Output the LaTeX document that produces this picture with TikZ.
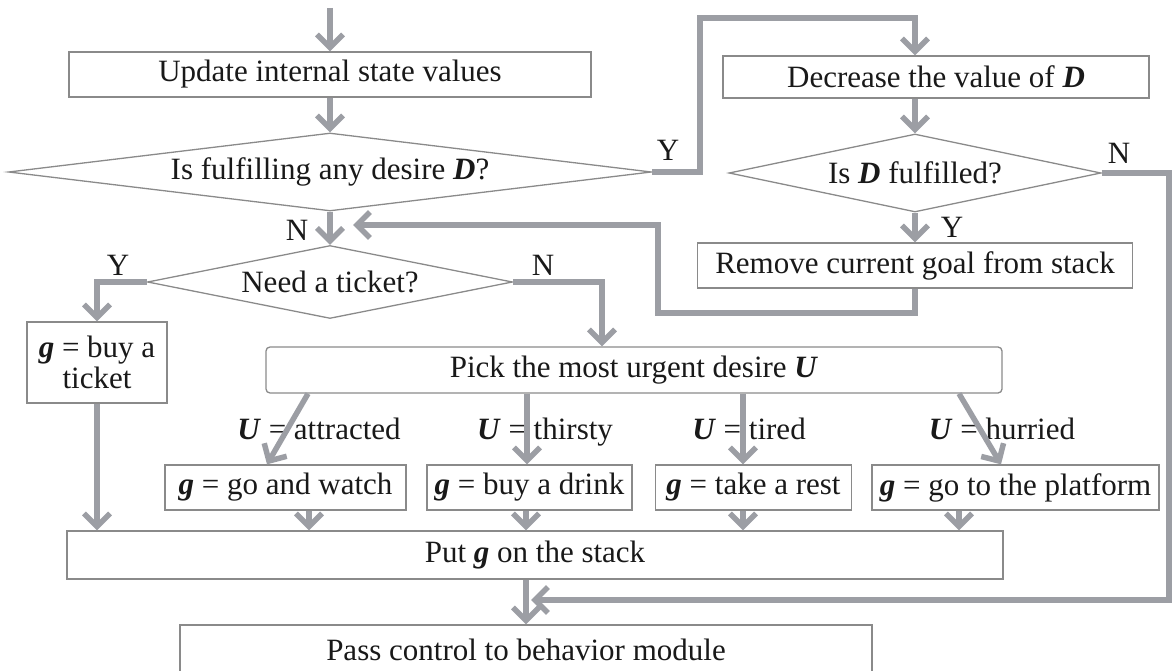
\documentclass[tikz,border=0pt]{standalone}
\usepackage{fontspec}
\setmainfont{Liberation Serif}
\usetikzlibrary{shapes.geometric,arrows.meta,calc}
\DeclareRobustCommand{\bv}[1]{\textbf{\textit{#1}}}
\newcommand{\vD}{\bv{D}}
\newcommand{\vg}{\bv{g}}
\newcommand{\vU}{\bv{U}}
\definecolor{arrowgray}{RGB}{156,158,164}
\definecolor{boxgray}{RGB}{138,138,138}
\definecolor{inkgray}{RGB}{25,25,25}
\tikzset{>={Straight Barb[length=13pt,width=26pt]}}
\tikzstyle{flow}   = [->,
                      line width=5.5pt,
                      draw=arrowgray]
\tikzstyle{box}    = [rectangle,
                      draw=boxgray,
                      line width=1.3pt,
                      inner sep=0pt,
                      minimum height=45pt]
\tikzstyle{choice} = [diamond,
                      draw=boxgray,
                      line width=1.3pt,
                      inner sep=2pt]
\tikzstyle{tag}    = [inner sep=0pt]

\begin{document}
\begin{tikzpicture}[x=1pt, y=-1pt, font=\fontsize{31}{31}\selectfont, text=inkgray]

  \useasboundingbox (0,0) rectangle (1172,671);

  % Nodes
  \node[box, minimum width=522pt] (update) at (330,74.5) {Update internal state values};
  \node[choice, minimum width=643pt, minimum height=78pt, shape aspect=8.2] (fulfil) at (330,172) {Is fulfilling any desire \vD?};
  \node[box, minimum width=426pt, minimum height=42pt] (decrease) at (936,77) {Decrease the value of \vD};
  \node[choice, minimum width=372pt, minimum height=78pt, shape aspect=4.8] (check) at (915,173) {Is \vD{} fulfilled?};
  \node[box, minimum width=435pt] (remove) at (915,265.5) {Remove current goal from stack};
  \node[choice, minimum width=365pt, minimum height=73pt, shape aspect=5] (need) at (330,282) {Need a ticket?};
  \node[box, minimum width=140pt, minimum height=81pt, align=center] (buy) at (97,362.5) {\vg{} = buy a\\ticket};
  \node[box, minimum width=736pt, minimum height=46pt, rounded corners=4pt] (pick) at (634,370) {Pick the most urgent desire \vU};
  \node[box, minimum width=241pt] (watch) at (285.5,487.5) {\vg{} = go and watch};
  \node[box, minimum width=205pt] (drink) at (529.5,487.5) {\vg{} = buy a drink};
  \node[box, minimum width=196pt] (rest) at (753.5,487.5) {\vg{} = take a rest};
  \node[box, minimum width=287pt] (platform) at (1015.5,487.5) {\vg{} = go to the platform};
  \node[box, minimum width=936pt, minimum height=48pt] (put) at (535,555) {Put \vg{} on the stack};
  \node[box, minimum width=692pt, minimum height=50pt] (pass) at (526,650) {Pass control to behavior module};

  % Labels
  \node[tag] (yfulfil) at (668,150) {Y};
  \node[tag] (nfulfil) at (297,230) {N};
  \node[tag] (ncheck) at (1119,153) {N};
  \node[tag] (ycheck) at (952,227) {Y};
  \node[tag] (yneed) at (118,265) {Y};
  \node[tag] (nneed) at (543,265) {N};
  \node[tag, anchor=base] (uattr) at (319,439) {\vU{} = attracted};
  \node[tag, anchor=base] (uthir) at (545,439) {\vU{} = thirsty};
  \node[tag, anchor=base] (utire) at (749,439) {\vU{} = tired};
  \node[tag, anchor=base] (uhurr) at (1002,439) {\vU{} = hurried};

  % Corners
  \coordinate (entry) at (330,8);
  \coordinate (loopup) at (700,18);
  \coordinate (redge) at (1169,0);
  \coordinate (merge) at (531,600);
  \coordinate (turn) at (658,313);
  \coordinate (back) at (353,225);

  % Edges
  \draw[flow] (entry) -- (entry |- update.north);
  \draw[flow] (update.south) -- (fulfil.north);
  \draw[flow] (fulfil.east) -| (loopup) -| ([xshift=-21pt]decrease.north);
  \draw[flow] ([xshift=-21pt]decrease.south) -- (check.north);
  \draw[flow] (check.south) -- (remove.north);
  \draw[flow] (check.east) -| (redge |- merge) -- (merge);
  \draw[flow] (remove.south) |- (turn) |- (back);
  \draw[flow] (fulfil.south) -- (need.north);
  \draw[flow] (need.west) -| (buy.north);
  \draw[flow] (need.east) -| ([xshift=-32pt]pick.north);
  \draw[flow] (buy.south) -- (buy.south |- put.north);
  \foreach \goal/\from/\to in {watch/308/267, drink/527/527, rest/743/743, platform/959/1001}
    \draw[flow] (pick.south -| \from,0) -- (\goal.north -| \to,0);
  \foreach \goal/\at in {watch/309, drink/526, rest/743, platform/959}
    \draw[flow] (\goal.south -| \at,0) -- (put.north -| \at,0);
  \draw[flow] (put.south -| pass.north) -- (pass.north);

\end{tikzpicture}
\end{document}
